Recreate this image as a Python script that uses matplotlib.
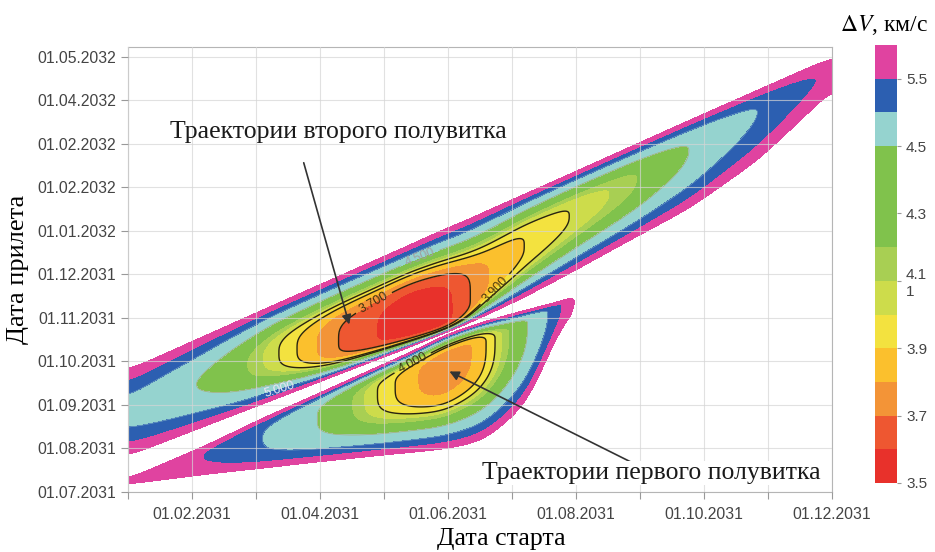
import numpy as np
import matplotlib.pyplot as plt
from matplotlib.colors import BoundaryNorm, ListedColormap
from matplotlib.cm import ScalarMappable

plt.rcParams['font.family'] = ['Liberation Sans', 'DejaVu Sans']
plt.rcParams['mathtext.fontset'] = 'stix'

# Уровни dV (км/с) и цвета заливки
levels = [3.5, 3.6, 3.7, 3.8, 3.9, 4.0, 4.1, 4.2, 4.5, 5.0, 5.5, 6.0]
fill_colors = ['#e8312b', '#ee5731', '#f39437', '#fbc02d', '#f3e23f', '#cddc4b',
               '#a8cf53', '#80c24c', '#95d3cf', '#2c5fb1', '#e043a0']
# шкала: зеленый интервал 4.2-4.5 занимает три деления
cbar_bounds = [3.5, 3.6, 3.7, 3.8, 3.9, 4.0, 4.1, 4.2, 4.3, 4.4, 4.5, 5.0, 5.5, 6.0]
cbar_colors = fill_colors[:7] + [fill_colors[7]] * 3 + fill_colors[8:]
cbar_ticks = [3.5, 3.7, 3.9, 4.1, 4.3, 4.5, 5.5]
cbar_labels = ['3.5', '3.7', '3.9', '4.1\n1', '4.3', '4.5', '5.5']

# Оси: месяцы от 01.01.2031 и равные шаги по дате прилета
x_months = np.arange(0, 12)
x_names = ['', '01.02.2031', '', '01.04.2031', '', '01.06.2031', '',
           '01.08.2031', '', '01.10.2031', '', '01.12.2031']
y_steps = np.arange(0, 11)
y_names = ['01.07.2031', '01.08.2031', '01.09.2031', '01.10.2031', '01.11.2031',
           '01.12.2031', '01.01.2032', '01.02.2032', '01.02.2032', '01.04.2032',
           '01.05.2032']

# Второй полувиток: сечения по дате старта (верх, ось, низ, минимум dV, крутизна)
up_x = [0.0, 1.125, 2.344, 3.234, 4.406, 4.953, 5.188, 5.5, 6.172, 6.906, 7.844, 8.781, 9.844, 10.766, 11.125]
up_top = [2.80, 3.54, 4.34, 4.92, 5.68, 6.05, 6.18, 6.39, 6.83, 7.31, 7.93, 8.55, 9.24, 9.84, 10.07]
up_mid = [1.84, 2.51, 3.22, 3.45, 3.91, 4.07, 4.28, 4.76, 5.68, 6.37, 7.10, 7.86, 8.74, 9.47, 9.75]
up_bot = [0.83, 1.47, 2.16, 2.67, 3.33, 3.66, 3.79, 4.00, 4.46, 5.03, 5.79, 6.53, 7.63, 8.90, 9.47]
up_min = [4.72, 4.5, 4.0, 3.7, 3.52, 3.55, 3.62, 3.78, 3.9, 4.0, 4.15, 4.5, 5.0, 5.5, 5.75]
up_pt = [1.5, 2.2, 3.0, 3.5, 3.8, 3.8, 3.6, 3.4, 3.2, 3.0, 2.8, 2.6, 2.3, 2.0, 1.8]
up_pb = [1.5, 2.4, 3.5, 4.5, 6.0, 8.0, 8.0, 4.5, 3.5, 3.0, 2.6, 2.3, 2.0, 1.8, 1.6]

# Первый полувиток
lo_x = [0.0, 1.234, 2.109, 2.953, 3.859, 4.484, 4.953, 5.5, 5.8125, 6.281, 6.594, 6.797, 7.031, 7.4]
lo_top = [0.30, 1.08, 1.70, 2.25, 2.85, 3.26, 3.61, 3.89, 4.02, 4.21, 4.32, 4.41, 4.51, 4.60]
lo_mid = [0.25, 0.85, 1.20, 1.66, 2.23, 2.57, 2.80, 3.38, 3.54, 3.91, 4.14, 4.30, 4.46, 4.50]
lo_bot = [0.18, 0.41, 0.55, 0.69, 0.83, 0.92, 0.99, 1.15, 1.47, 2.11, 3.29, 3.84, 4.41, 4.40]
lo_min = [5.8, 5.5, 5.0, 4.5, 4.0, 3.8, 3.72, 3.8, 4.05, 4.5, 5.0, 5.5, 6.2, 7.0]
lo_pt = [2.5, 3.5, 4.0, 4.5, 4.5, 5.0, 6.0, 4.0, 3.0, 2.5, 2.0, 2.0, 2.0, 2.0]
lo_pb = [2.0, 2.6, 2.8, 3.0, 3.2, 3.2, 3.2, 3.2, 3.2, 3.0, 2.5, 2.0, 2.0, 2.0]

xg = np.linspace(0, 11, 1100)
yg = np.linspace(0, 10.3, 900)


def profile(xs, vals, sigma=0.18):
    # параметры сечений -> гладкий профиль по дате старта
    v = np.interp(xg, xs, vals)
    dx = xg[1] - xg[0]
    half = int(4 * sigma / dx)
    k = np.arange(-half, half + 1) * dx
    w = np.exp(-0.5 * (k / sigma) ** 2)
    w /= w.sum()
    return np.convolve(np.pad(v, half, mode='edge'), w, mode='valid')


def lobe_field(xs, top, mid, bot, vmin, p_top, p_bot):
    t, c, b, v, pt, pb = (profile(xs, a) for a in (top, mid, bot, vmin, p_top, p_bot))
    Y = yg[:, None]
    above = Y >= c
    eta = np.where(above, (Y - c) / np.maximum(t - c, 1e-3),
                   (c - Y) / np.maximum(c - b, 1e-3))
    pw = np.where(above, pt, pb)
    dv = v + np.maximum(6.0 - v, 0.15) * np.abs(eta) ** pw
    inside = (xg >= xs[0]) & (xg <= xs[-1])
    return np.where(inside, np.nan_to_num(dv, nan=7.0), 7.0)


X, Y = np.meshgrid(xg, yg)
Z = np.minimum(lobe_field(up_x, up_top, up_mid, up_bot, up_min, up_pt, up_pb),
               lobe_field(lo_x, lo_top, lo_mid, lo_bot, lo_min, lo_pt, lo_pb))
Z = np.clip(Z, 3.4, 7.0)

fig = plt.figure(figsize=(9.35, 5.52), dpi=100)
ax = fig.add_axes([0.1369, 0.1087, 0.7529, 0.8062])

ax.contourf(X, Y, Z, levels=levels, colors=fill_colors)

# подписанные изолинии
for lev, pos, col, lw, tcol in [(3.7, (3.906, 4.18), '#2b2410', 1.0, '#3a3010'),
                                (3.9, (5.70, 4.71), '#2b2410', 1.0, '#4a3a10'),
                                (4.0, (4.44, 2.99), '#2b2410', 1.0, '#3a3010'),
                                (4.5, (4.48, 5.68), '#a8ad70', 0.5, '#a0a0a0'),
                                (5.0, (2.34, 2.46), '#80b0c8', 0.4, '#ece4f4')]:
    cs = ax.contour(X, Y, Z, levels=[lev], colors=col, linewidths=lw)
    ax.clabel(cs, fmt='%.3f', manual=[pos], fontsize=9, colors=tcol, inline=True)

ax.set_xlim(0, 11)
ax.set_ylim(0, 10.23)
ax.set_xticks(x_months)
ax.set_xticklabels(x_names)
ax.set_yticks(y_steps)
ax.set_yticklabels(y_names)
ax.tick_params(labelsize=11.3, labelcolor='#444444', color='#999999', length=5)
ax.tick_params(axis='x', pad=6)
ax.grid(True, color='#d5d5d5', lw=0.8, alpha=0.7)
ax.set_axisbelow(False)
for sp in ax.spines.values():
    sp.set_color('#b5b5b5')

serif = 'Liberation Serif'
ax.set_xlabel('Дата старта', fontfamily=serif, fontsize=18.5, labelpad=4, x=0.531)
ax.set_ylabel('Дата прилета', fontfamily=serif, fontsize=19, labelpad=6)

ax.annotate('', xy=(3.469, 3.79), xytext=(2.734, 7.63),
            arrowprops=dict(arrowstyle='-|>', color='#333333', lw=1.2, mutation_scale=14))
ax.annotate('', xy=(4.984, 2.80), xytext=(7.953, 0.62),
            arrowprops=dict(arrowstyle='-|>', color='#333333', lw=1.2, mutation_scale=14))
ax.text(0.656, 8.28, 'Траектории второго полувитка', fontfamily=serif, fontsize=18.5,
        ha='left', va='center', color='#1a1a1a')
ax.text(5.53, 0.44, 'Траектории первого полувитка', fontfamily=serif, fontsize=18.5,
        ha='left', va='center', color='#1a1a1a',
        bbox=dict(facecolor='white', edgecolor='none', pad=1))

cax = fig.add_axes([0.9358, 0.125, 0.0235, 0.7935])
sm = ScalarMappable(norm=BoundaryNorm(cbar_bounds, len(cbar_colors)),
                    cmap=ListedColormap(cbar_colors))
cb = fig.colorbar(sm, cax=cax, boundaries=cbar_bounds, ticks=cbar_ticks, spacing='uniform')
cb.minorticks_off()
cb.ax.set_yticklabels(cbar_labels)
cb.outline.set_visible(False)
cb.ax.tick_params(labelsize=11, labelcolor='#444444', color='#999999', length=3)
fig.text(884 / 935, 1 - 25 / 552, r'$\Delta V$, км/с', fontfamily=serif, fontsize=17,
         ha='center', va='center')

fig.savefig('out.png', dpi=100)
